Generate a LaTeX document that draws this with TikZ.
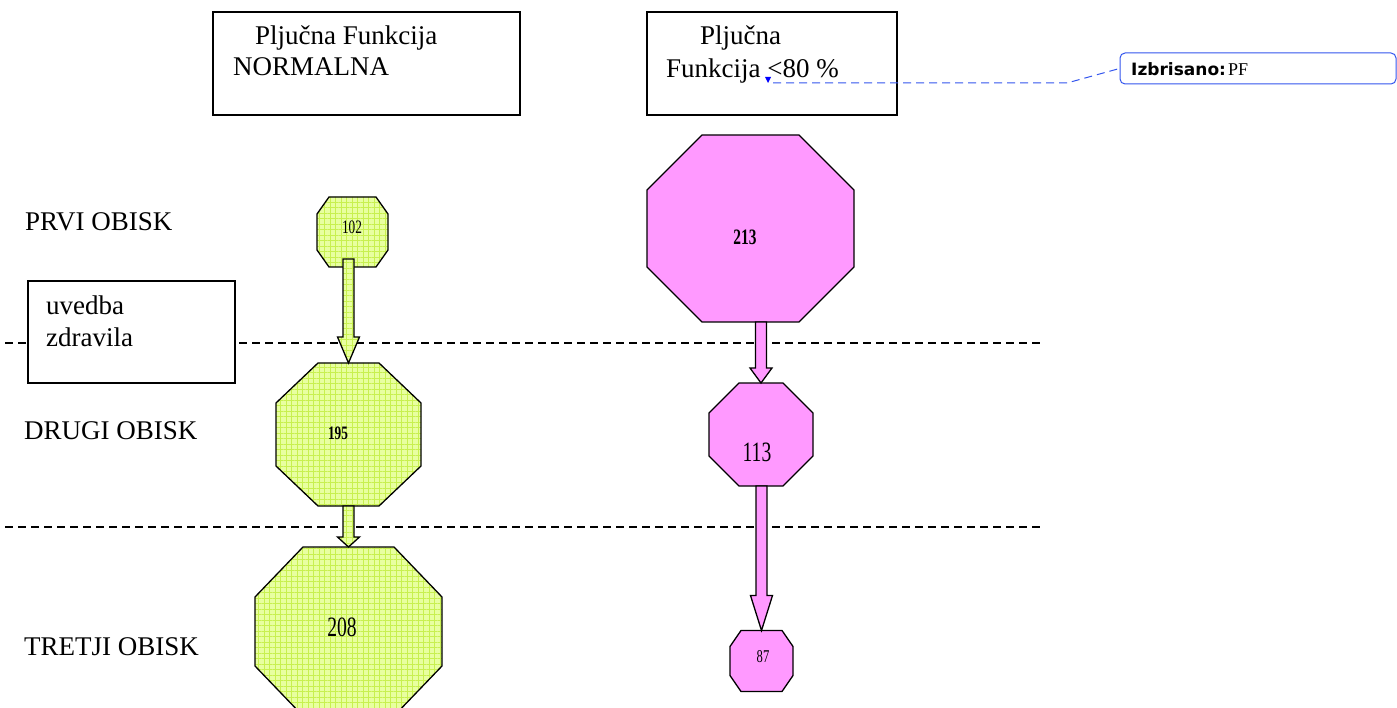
\documentclass[tikz,border=0pt]{standalone}
\usepackage{fontspec}
\setmainfont{Liberation Serif}
\newfontfamily\numfont[FakeStretch=0.7]{Liberation Serif}
\newfontfamily\cmtfont{DejaVu Sans}
\usetikzlibrary{calc,patterns.meta}
\definecolor{gbase}{HTML}{E8FFA0}
\definecolor{ggrid}{HTML}{C8F050}
\definecolor{mag}{HTML}{FF99FF}
\definecolor{cblue}{HTML}{3355EE}
\newcommand\octagon[4]{%
  \path[#4] ($(#1.north west)+(#2,0)$) -- ($(#1.north east)+(-#2,0)$) -- ($(#1.north east)+(0,#3)$) -- ($(#1.south east)+(0,-#3)$) -- ($(#1.south east)+(-#2,0)$) -- ($(#1.south west)+(#2,0)$) -- ($(#1.south west)+(0,-#3)$) -- ($(#1.north west)+(0,#3)$) -- cycle;}
\newcommand\barrow[5]{%
  \path[#1] let \p1=(#3.north |- #2.south), \p2=(#3.north) in
  (\x1-5.5pt,\y1+#4pt) -- (\x1-5.5pt,\y2+#5pt) -- (\x1-11pt,\y2+#5pt) -- (\x2,\y2) -- (\x1+11pt,\y2+#5pt) -- (\x1+5.5pt,\y2+#5pt) -- (\x1+5.5pt,\y1+#4pt) -- cycle;}
\begin{document}
\begin{tikzpicture}[x=1pt,y=-1pt,
  octbox/.style={inner sep=0pt,outer sep=0pt,draw=none},
  greenshape/.style={preaction={fill=gbase},
    preaction={pattern={Lines[distance=5.5pt,line width=0.5pt]},pattern color=ggrid},
    preaction={pattern={Lines[angle=90,distance=5.5pt,line width=0.5pt]},pattern color=ggrid},
    draw=black,line width=1.3pt,line join=miter},
  magshape/.style={fill=mag,draw=black,line width=1.3pt,line join=miter},
  txtbox/.style={draw=black,line width=1.4pt,fill=white,inner sep=0pt},
  lbl/.style={inner sep=0pt,anchor=base west,font=\fontsize{27}{32}\selectfont},
  num/.style={inner sep=0pt,anchor=center},
  sep/.style={draw=black,line width=1.3pt,dash pattern=on 8pt off 5pt},
  cmtline/.style={draw=cblue,line width=1pt,dash pattern=on 8pt off 5pt}]
\useasboundingbox (0,0) rectangle (1397,708);
\fill[white] (0,0) rectangle (1397,708);

% separators
\draw[sep] (5,343) -- (1040,343);
\draw[sep] (5,527) -- (1040,527);

% top boxes
\node[txtbox,minimum width=307pt,minimum height=103pt] (box1) at (366.5,63.5) {};
\node[lbl] (t1a) at (255,45) {Plju\v{c}na Funkcija};
\node[lbl] (t1b) at (233,76) {NORMALNA};
\node[txtbox,minimum width=250pt,minimum height=103pt] (box2) at (772,63.5) {};
\node[lbl] (t2a) at (700,45) {Plju\v{c}na};
\node[lbl] (t2b) at (666,78) {Funkcija <80 \%};

% comment
\node[draw=cblue,line width=1pt,rounded corners=5pt,minimum width=276pt,minimum height=31pt,inner sep=0pt] (cmt) at (1258,68.5) {};
\node[inner sep=0pt,anchor=base west,font=\cmtfont\bfseries\fontsize{17}{20}\selectfont] (cmtk) at (1131,76) {Izbrisano:};
\node[inner sep=0pt,anchor=base west,font=\fontsize{18}{20}\selectfont] (cmtv) at (1228,76) {PF};
\coordinate (mk) at (768,83);
\fill[blue] (765,77) -- (771,77) -- (mk) -- cycle;
\coordinate (bend) at (1067,83);
\draw[cmtline] ($(mk)+(5,0)$) -- (bend) -- (cmt.west);

% left labels
\node[lbl] (l1) at (25,231) {PRVI OBISK};
\node[txtbox,minimum width=207pt,minimum height=102pt] (lbox) at (131.5,332) {};
\node[lbl] (l1a) at (46,315) {uvedba};
\node[lbl] (l1b) at (46,347) {zdravila};
\node[lbl] (l2) at (24,439) {DRUGI OBISK};
\node[lbl] (l3) at (24,655) {TRETJI OBISK};

% octagon frames
\node[octbox,minimum width=71pt,minimum height=70pt] (o102) at (352.5,232) {};
\node[octbox,minimum width=145pt,minimum height=143pt] (o195) at (348.5,434.5) {};
\node[octbox,minimum width=187pt,minimum height=169pt] (o208) at (348.5,631.5) {};
\node[octbox,minimum width=207pt,minimum height=187pt] (o213) at (750.5,228.5) {};
\node[octbox,minimum width=104pt,minimum height=103pt] (o113) at (761,434.5) {};
\node[octbox,minimum width=63pt,minimum height=61pt] (o87) at (761.5,661) {};

\octagon{o102}{12}{17}{greenshape}
\octagon{o195}{42}{40}{greenshape}
\octagon{o208}{48}{50}{greenshape}
\octagon{o213}{55}{55}{magshape}
\octagon{o113}{30}{30}{magshape}
\octagon{o87}{11}{16}{magshape}

% arrows
\barrow{greenshape}{o102}{o195}{8}{26}
\barrow{greenshape}{o195}{o208}{0}{10}
\barrow{magshape}{o213}{o113}{0}{15}
\barrow{magshape}{o113}{o87}{0}{35}

% numbers
\node[num,font=\numfont\fontsize{19}{20}\selectfont] (n102) at (352,227) {102};
\node[num,font=\numfont\bfseries\fontsize{19}{20}\selectfont] (n195) at (338,433) {195};
\node[num,font=\numfont\fontsize{28}{30}\selectfont] (n208) at (342,627) {208};
\node[num,font=\numfont\bfseries\fontsize{22}{24}\selectfont] (n213) at (745,237) {213};
\node[num,font=\numfont\fontsize{28}{30}\selectfont] (n113) at (757,452) {113};
\node[num,font=\numfont\fontsize{18}{20}\selectfont] (n87) at (763,657) {87};
\end{tikzpicture}
\end{document}
